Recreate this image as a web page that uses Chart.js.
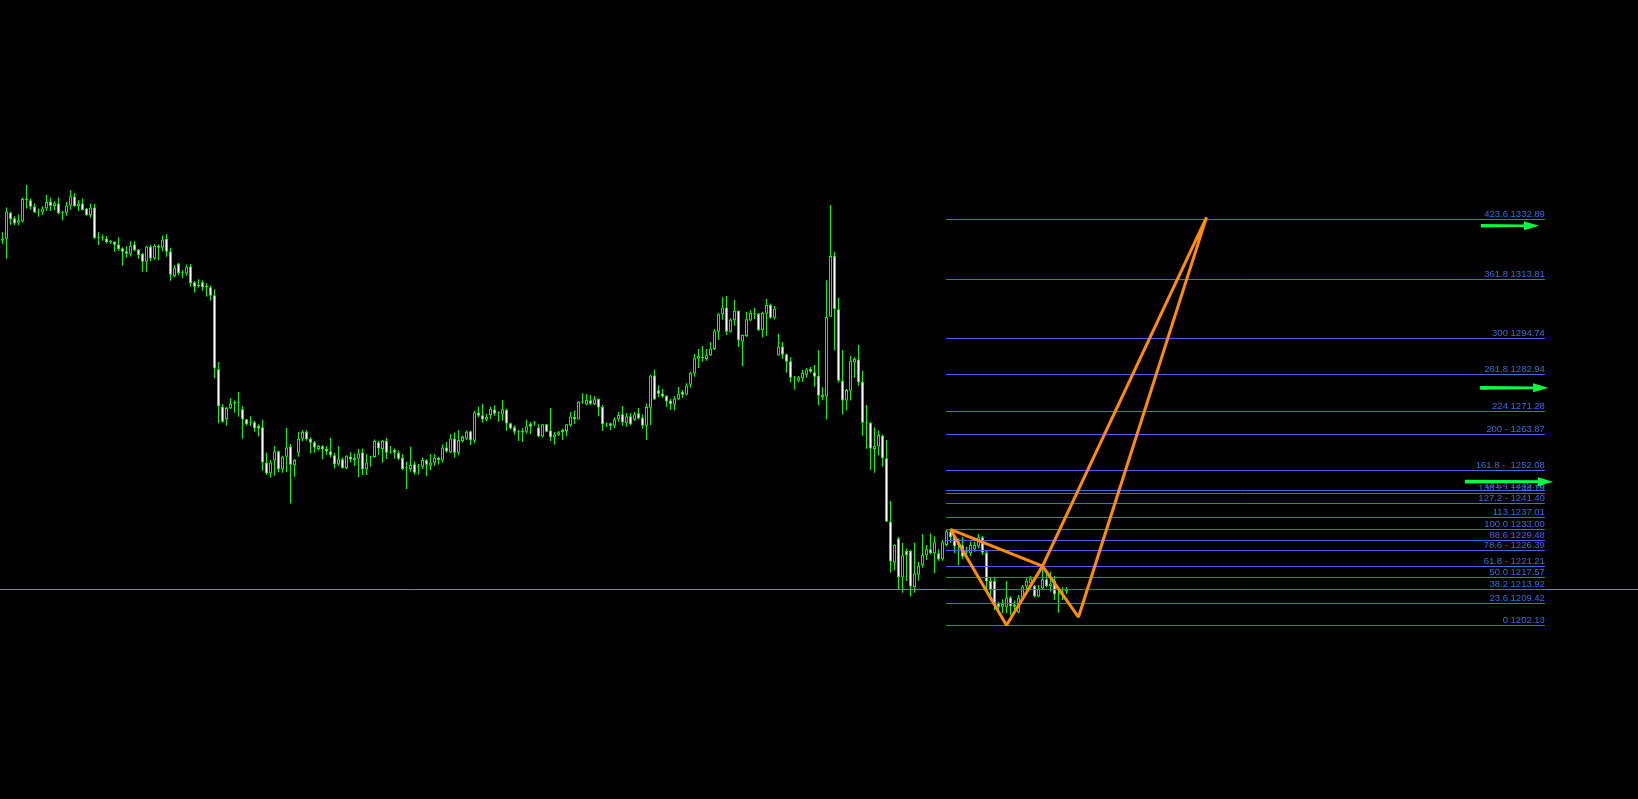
<!DOCTYPE html>
<html>
<head>
<meta charset="utf-8">
<title>XAUUSD H4 - Fibo</title>
<script src="https://cdn.jsdelivr.net/npm/chart.js"></script>
<style>
    html, body { margin: 0; padding: 0; background: #000; overflow: hidden; }
    #wrap { position: relative; width: 1638px; height: 799px; background: #000; }
</style>
</head>
<body>
<div id="wrap"><canvas id="chart"></canvas></div>
<script>
// --- candles (bar index = position in the arrays) ---
const opens = [
    1326.0, 1326.6, 1335.1, 1333.2, 1331.8, 1332.2, 1339.1, 1339.0, 1337.0, 1335.2,
    1335.1, 1336.4, 1338.6, 1337.2, 1338.0, 1335.1, 1335.0, 1337.3, 1340.2, 1337.2,
    1338.0, 1336.4, 1334.3, 1336.7, 1327.0, 1326.9, 1326.7, 1325.7, 1325.7, 1324.8,
    1323.6, 1322.6, 1321.8, 1324.8, 1323.1, 1321.7, 1319.2, 1324.1, 1320.3, 1324.4,
    1323.7, 1326.6, 1322.5, 1314.6, 1318.5,
    1315.7, 1315.4, 1317.7, 1312.6, 1311.4, 1312.6, 1311.2, 1311.0, 1308.4, 1284.6,
    1272.5, 1268.5, 1272.0, 1273.5, 1273.9, 1271.7, 1268.5, 1267.5, 1267.5, 1266.3,
    1265.9, 1254.6, 1251.0, 1255.2, 1258.2, 1252.4, 1256.4, 1259.7, 1253.7, 1257.7,
    1262.2, 1264.4, 1262.2, 1261.1, 1258.9, 1259.8, 1258.9, 1258.2, 1256.9, 1254.0,
    1255.6, 1252.8, 1256.5, 1255.2, 1255.8,
    1257.8, 1252.4, 1256.3, 1256.3, 1261.1, 1258.9, 1261.5, 1257.9, 1258.6, 1257.6,
    1256.0, 1252.8, 1252.5, 1254.0, 1253.3, 1253.2, 1255.3, 1253.5, 1254.5, 1256.1,
    1255.2, 1259.4, 1257.9, 1262.3, 1257.7, 1261.5, 1262.3, 1264.6, 1261.6, 1270.7,
    1269.8, 1268.3, 1269.8, 1271.6, 1270.5, 1270.0, 1271.5, 1267.2, 1265.9, 1264.6,
    1264.4, 1264.5, 1267.0, 1267.2, 1265.8,
    1262.9, 1266.9, 1264.9, 1262.7, 1263.5, 1264.4, 1264.7, 1266.6, 1269.2, 1268.4,
    1273.9, 1273.3, 1274.6, 1273.4, 1275.0, 1272.4, 1266.9, 1267.2, 1266.4, 1268.5,
    1270.1, 1267.4, 1269.5, 1268.3, 1270.4, 1269.0, 1266.4, 1272.2, 1282.6, 1277.8,
    1276.8, 1276.0, 1274.5, 1273.2, 1274.9, 1277.3, 1276.4, 1279.6, 1283.2, 1288.0,
    1288.2, 1287.9, 1289.0, 1291.1, 1296.7,
    1302.3, 1304.5, 1296.7, 1300.4, 1303.4, 1293.5, 1295.3, 1300.3, 1302.3, 1302.5,
    1297.2, 1302.5, 1305.3, 1301.2, 1289.0, 1291.9, 1289.4, 1287.2, 1281.7, 1280.9,
    1281.7, 1282.8, 1284.7, 1283.6, 1282.4, 1275.5, 1275.8, 1301.5, 1321.1, 1303.9,
    1280.8, 1274.5, 1277.7, 1286.8, 1287.7, 1280.5, 1267.5, 1267.3, 1258.9, 1259.7,
    1263.2, 1255.9, 1235.5, 1222.3, 1230.1,
    1217.5, 1226.1, 1226.1, 1214.4, 1218.4, 1221.5, 1224.7, 1226.6, 1225.3, 1225.3,
    1223.4, 1228.0, 1232.2, 1230.7, 1229.1, 1227.9, 1226.4, 1225.3, 1226.6, 1227.5,
    1230.5, 1225.5, 1216.4, 1216.4, 1209.2, 1208.1, 1208.1, 1211.1, 1208.8, 1206.3,
    1211.1, 1214.6, 1215.6, 1214.9, 1211.4, 1214.0, 1217.0, 1214.8, 1216.5, 1212.6,
    1212.9, 1213.0
];
const highs = [
    1328.7, 1336.7, 1335.3, 1333.9, 1334.4, 1339.9, 1343.9, 1339.6, 1338.0, 1336.4,
    1337.1, 1340.7, 1339.9, 1338.7, 1339.9, 1335.6, 1338.5, 1342.3, 1341.4, 1339.1,
    1339.6, 1336.5, 1338.0, 1337.8, 1328.7, 1328.0, 1327.5, 1326.2, 1325.8, 1327.1,
    1323.9, 1324.2, 1325.8, 1325.8, 1323.3, 1322.1, 1324.4, 1324.6, 1324.9, 1324.8,
    1327.7, 1328.1, 1323.7, 1318.1, 1318.8,
    1316.6, 1318.3, 1318.5, 1313.0, 1313.6, 1313.3, 1312.3, 1311.6, 1310.3, 1286.9,
    1273.4, 1272.5, 1275.3, 1274.5, 1277.3, 1272.8, 1268.6, 1269.5, 1267.9, 1266.9,
    1268.3, 1257.7, 1255.4, 1259.9, 1258.4, 1256.7, 1265.7, 1260.5, 1255.6, 1264.4,
    1265.0, 1265.0, 1262.7, 1261.5, 1260.2, 1260.2, 1259.9, 1262.5, 1257.7, 1259.9,
    1256.2, 1256.9, 1257.9, 1257.5, 1258.9,
    1259.1, 1257.3, 1256.7, 1262.0, 1261.5, 1261.8, 1262.5, 1259.9, 1259.1, 1258.4,
    1257.3, 1254.8, 1259.6, 1254.9, 1254.1, 1256.2, 1255.6, 1257.3, 1257.3, 1256.4,
    1260.4, 1261.2, 1263.7, 1264.2, 1265.0, 1263.3, 1264.9, 1264.7, 1271.2, 1272.5,
    1273.5, 1270.3, 1272.5, 1273.0, 1271.0, 1274.7, 1271.9, 1267.4, 1266.5, 1265.0,
    1265.7, 1268.3, 1267.6, 1267.9, 1266.9,
    1267.0, 1267.0, 1272.1, 1264.4, 1264.7, 1265.5, 1267.0, 1270.8, 1271.3, 1274.3,
    1276.9, 1276.6, 1276.2, 1276.0, 1275.2, 1273.1, 1267.4, 1267.4, 1269.1, 1270.8,
    1272.8, 1270.5, 1270.4, 1270.8, 1272.1, 1270.0, 1273.6, 1282.8, 1284.4, 1279.4,
    1278.2, 1276.2, 1275.1, 1276.0, 1278.9, 1277.9, 1280.1, 1283.7, 1289.5, 1291.1,
    1292.1, 1291.1, 1293.4, 1297.6, 1302.6,
    1307.8, 1308.2, 1301.0, 1306.9, 1303.5, 1295.8, 1303.1, 1303.6, 1304.3, 1302.7,
    1303.1, 1307.2, 1305.8, 1305.0, 1296.0, 1293.4, 1289.6, 1288.5, 1282.4, 1282.4,
    1284.4, 1284.9, 1285.3, 1286.0, 1290.8, 1278.8, 1313.3, 1337.5, 1322.4, 1307.6,
    1290.8, 1278.2, 1288.9, 1288.5, 1292.4, 1284.0, 1273.1, 1267.7, 1265.8, 1264.9,
    1263.6, 1261.8, 1242.2, 1228.2, 1230.6,
    1228.7, 1226.9, 1226.4, 1228.7, 1222.6, 1231.5, 1228.0, 1231.7, 1230.7, 1226.6,
    1229.6, 1232.8, 1232.8, 1230.9, 1230.1, 1230.5, 1227.5, 1229.1, 1229.1, 1231.5,
    1230.9, 1226.4, 1217.8, 1217.8, 1209.7, 1210.5, 1216.4, 1211.6, 1210.1, 1211.9,
    1215.1, 1217.3, 1218.0, 1215.1, 1215.1, 1220.2, 1218.9, 1219.4, 1218.0, 1213.5,
    1214.4, 1214.4
];
const lows = [
    1324.9, 1320.2, 1331.1, 1331.0, 1331.0, 1331.9, 1336.4, 1336.0, 1334.9, 1333.7,
    1334.3, 1335.6, 1335.6, 1335.8, 1334.5, 1332.6, 1334.0, 1336.0, 1336.9, 1335.6,
    1335.7, 1334.0, 1333.4, 1326.6, 1324.6, 1326.0, 1325.1, 1324.9, 1322.4, 1322.7,
    1317.9, 1320.5, 1320.9, 1322.5, 1320.2, 1316.0, 1316.0, 1319.4, 1319.9, 1319.7,
    1322.6, 1320.8, 1313.1, 1314.2, 1314.9,
    1314.0, 1314.7, 1311.2, 1309.3, 1310.9, 1309.9, 1308.0, 1306.7, 1281.6, 1267.2,
    1267.4, 1266.4, 1271.8, 1270.6, 1269.3, 1262.2, 1266.5, 1266.3, 1264.5, 1262.9,
    1251.9, 1250.5, 1249.7, 1250.3, 1251.4, 1251.3, 1251.4, 1241.4, 1250.0, 1256.4,
    1261.4, 1261.6, 1257.5, 1257.7, 1258.4, 1255.6, 1257.1, 1256.2, 1252.6, 1253.4,
    1252.6, 1252.4, 1254.6, 1253.4, 1249.8,
    1250.5, 1250.5, 1253.2, 1256.1, 1257.0, 1254.5, 1255.7, 1257.4, 1255.8, 1255.4,
    1252.1, 1246.0, 1251.6, 1250.6, 1250.6, 1252.5, 1250.2, 1252.1, 1253.5, 1253.9,
    1254.5, 1257.7, 1257.6, 1256.1, 1256.9, 1261.0, 1261.8, 1260.2, 1260.8, 1269.1,
    1267.4, 1267.8, 1268.6, 1269.6, 1267.7, 1268.1, 1264.8, 1265.2, 1263.6, 1261.5,
    1261.2, 1263.9, 1263.7, 1266.4, 1262.7,
    1262.6, 1264.3, 1261.5, 1260.3, 1263.1, 1261.8, 1263.1, 1266.1, 1267.0, 1268.4,
    1273.5, 1273.0, 1273.1, 1273.1, 1269.5, 1264.8, 1266.0, 1265.0, 1265.7, 1267.7,
    1266.4, 1266.1, 1266.6, 1268.0, 1268.4, 1265.4, 1261.8, 1266.6, 1274.7, 1275.6,
    1275.4, 1272.5, 1271.5, 1271.3, 1274.6, 1275.3, 1276.2, 1278.6, 1282.2, 1285.0,
    1287.0, 1287.3, 1288.9, 1290.8, 1294.0,
    1300.5, 1295.6, 1296.4, 1298.6, 1291.8, 1285.6, 1295.0, 1300.1, 1300.8, 1296.9,
    1294.8, 1295.4, 1300.9, 1300.6, 1289.0, 1288.0, 1283.5, 1280.3, 1278.0, 1280.3,
    1280.5, 1281.9, 1283.5, 1279.0, 1272.9, 1274.6, 1268.4, 1301.5, 1290.6, 1280.3,
    1270.0, 1271.3, 1274.5, 1281.9, 1279.3, 1263.2, 1259.0, 1252.2, 1251.3, 1256.8,
    1253.2, 1235.5, 1219.1, 1219.9, 1213.7,
    1212.6, 1216.4, 1211.4, 1212.6, 1216.5, 1220.7, 1223.2, 1224.9, 1218.9, 1222.9,
    1222.9, 1227.5, 1228.7, 1225.3, 1221.5, 1223.4, 1223.7, 1224.4, 1225.8, 1226.9,
    1224.8, 1213.5, 1211.4, 1207.1, 1206.5, 1206.0, 1206.0, 1205.4, 1207.1, 1206.0,
    1210.3, 1213.0, 1214.4, 1211.1, 1211.1, 1213.7, 1214.4, 1213.0, 1210.3, 1206.2,
    1210.3, 1212.2
];
const closes = [
    1326.7, 1335.4, 1333.0, 1331.5, 1332.6, 1339.4, 1339.3, 1336.9, 1335.1, 1335.1,
    1336.4, 1338.5, 1337.2, 1338.1, 1334.8, 1335.0, 1337.3, 1340.3, 1337.2, 1338.1,
    1335.9, 1334.3, 1336.7, 1326.9, 1326.8, 1326.8, 1325.5, 1325.6, 1324.7, 1323.3,
    1322.4, 1321.8, 1324.4, 1323.0, 1321.4, 1319.2, 1324.1, 1320.3, 1324.4, 1323.7,
    1326.4, 1322.4, 1315.0, 1317.3, 1315.6,
    1315.9, 1317.7, 1312.3, 1311.2, 1311.6, 1311.0, 1311.1, 1308.3, 1284.9, 1272.7,
    1267.7, 1272.1, 1273.4, 1274.0, 1273.8, 1268.5, 1266.9, 1267.4, 1265.6, 1265.5,
    1254.6, 1251.0, 1254.6, 1258.2, 1252.4, 1256.4, 1259.4, 1253.8, 1255.4, 1262.2,
    1264.4, 1262.1, 1260.9, 1259.4, 1259.9, 1258.8, 1258.1, 1256.9, 1254.0, 1255.6,
    1252.8, 1256.7, 1255.5, 1256.0, 1257.5,
    1252.4, 1254.6, 1256.2, 1261.5, 1259.1, 1261.5, 1257.7, 1257.8, 1257.7, 1255.8,
    1252.5, 1252.7, 1253.8, 1251.3, 1253.2, 1255.4, 1253.8, 1254.6, 1256.2, 1255.4,
    1259.4, 1258.1, 1262.3, 1257.7, 1261.8, 1262.8, 1264.5, 1261.7, 1270.7, 1269.6,
    1268.4, 1269.2, 1271.9, 1270.3, 1270.4, 1271.7, 1267.1, 1265.5, 1264.5, 1264.5,
    1264.5, 1266.2, 1266.1, 1267.1, 1262.9,
    1266.9, 1264.5, 1262.7, 1263.7, 1264.3, 1265.0, 1266.9, 1269.4, 1268.4, 1274.1,
    1274.1, 1274.7, 1273.5, 1274.9, 1272.3, 1266.9, 1266.8, 1266.4, 1268.5, 1269.9,
    1267.5, 1269.5, 1267.0, 1270.1, 1268.8, 1266.4, 1272.4, 1282.6, 1274.9, 1276.7,
    1275.8, 1274.2, 1273.3, 1275.2, 1276.8, 1276.4, 1279.4, 1283.3, 1288.1, 1288.9,
    1288.3, 1289.1, 1291.3, 1296.8, 1302.3,
    1304.5, 1296.7, 1300.5, 1303.4, 1293.9, 1295.6, 1300.7, 1302.7, 1302.4, 1297.2,
    1302.7, 1305.3, 1301.2, 1304.2, 1291.9, 1289.3, 1287.0, 1281.9, 1281.6, 1282.0,
    1283.4, 1284.5, 1283.8, 1282.2, 1276.1, 1276.3, 1301.4, 1321.1, 1303.9, 1280.9,
    1274.5, 1277.9, 1287.3, 1288.0, 1280.4, 1267.4, 1267.4, 1259.1, 1259.9, 1263.4,
    1255.9, 1235.5, 1222.7, 1228.0, 1217.6,
    1224.7, 1224.8, 1214.6, 1218.9, 1221.2, 1224.8, 1226.6, 1225.3, 1228.9, 1223.4,
    1228.9, 1232.4, 1230.5, 1227.5, 1228.0, 1224.2, 1225.8, 1228.0, 1228.0, 1230.5,
    1225.5, 1216.2, 1213.5, 1209.2, 1208.1, 1209.0, 1211.1, 1208.3, 1208.1, 1211.1,
    1214.6, 1216.5, 1217.3, 1211.6, 1214.0, 1217.0, 1214.8, 1215.6, 1212.1, 1212.3,
    1212.6, 1213.7
];

// --- fibo levels (bar 236 .. 385.6) ---
const fibRatios = ['423.6', '361.8', '300', '261.8', '224', '200 -', '161.8 - ', '141.4', '138.2 -', '127.2 -', '113', '100.0', '88.6', '78.6 -', '61.8 -', '50.0', '38.2', '23.6', '0'];
const fibPrices = [1332.89, 1313.81, 1294.74, 1282.94, 1271.28, 1263.87, 1252.08, 1245.78, 1244.79, 1241.40, 1237.01, 1233.00, 1229.48, 1226.39, 1221.21, 1217.57, 1213.92, 1209.42, 1202.13];
const fibStart = 235.9;
const fibEnd = 385.6;

// --- harmonic pattern X A B C D ---
const patternBars = [237, 251, 260, 269, 301];
const patternPrices = [1233.0, 1202.13, 1221.2, 1204.8, 1333.5];

// --- arrows on the right + bid line ---
const arrowFrom = [369.6, 369.4, 365.6];
const arrowTo = [384.1, 386.4, 387.6];
const arrowPrices = [1330.8, 1278.6, 1248.4];
const bidPrice = 1213.7;

const candleGreen = '#00ff00';
const fibBlue = '#4169e1';

const bodies = opens.map((o, i) => ({ x: i, y: [o, closes[i]] }));
const wicks = lows.map((l, i) => ({ x: i, y: [l, highs[i]] }));
const bodyFill = opens.map((o, i) => closes[i] > o ? '#000000' : '#ffffff');

const pt = k => ({ x: patternBars[k], y: patternPrices[k] });
const patternData = [pt(0), pt(1), pt(2), pt(0), { x: 262, y: null }, pt(2), pt(3), pt(4), pt(2)];

const overlayPlugin = {
    id: 'overlay',
    beforeDatasetDraw(chart, args) {
        if (args.index !== 2) return;
        const ctx = chart.ctx;
        const xs = chart.scales.x, ys = chart.scales.y;
        ctx.save();

        // bid line
        const by = Math.round(ys.getPixelForValue(bidPrice)) + 0.5;
        ctx.strokeStyle = '#778899';
        ctx.lineWidth = 1;
        ctx.beginPath();
        ctx.moveTo(0, by);
        ctx.lineTo(chart.width, by);
        ctx.stroke();

        // fibo lines + labels
        const x1 = xs.getPixelForValue(fibStart), x2 = xs.getPixelForValue(fibEnd);
        ctx.strokeStyle = fibBlue;
        ctx.fillStyle = fibBlue;
        ctx.font = "9.5px 'Liberation Sans', Arial, sans-serif";
        ctx.textAlign = 'right';
        ctx.textBaseline = 'alphabetic';
        fibPrices.forEach((p, i) => {
            const py = Math.round(ys.getPixelForValue(p)) + 0.5;
            ctx.beginPath();
            ctx.moveTo(x1, py);
            ctx.lineTo(x2, py);
            ctx.stroke();
            ctx.fillText(fibRatios[i] + ' ' + p.toFixed(2), x2, py - 3);
        });

        // arrows
        ctx.fillStyle = '#00ff40';
        arrowPrices.forEach((p, i) => {
            const ax = xs.getPixelForValue(arrowFrom[i]);
            const bx = xs.getPixelForValue(arrowTo[i]);
            const ay = ys.getPixelForValue(p);
            const head = 15;
            ctx.beginPath();
            ctx.moveTo(ax, ay - 1.8);
            ctx.lineTo(bx - head, ay - 1.3);
            ctx.lineTo(bx - head, ay - 4.5);
            ctx.lineTo(bx, ay);
            ctx.lineTo(bx - head, ay + 4.5);
            ctx.lineTo(bx - head, ay + 1.3);
            ctx.lineTo(ax, ay + 1.8);
            ctx.closePath();
            ctx.fill();
        });
        ctx.restore();
    }
};

new Chart(document.getElementById('chart'), {
    type: 'bar',
    data: {
        datasets: [
            {
                label: 'body',
                data: bodies,
                order: 1,
                grouped: false,
                barThickness: 3,
                minBarLength: 1,
                inflateAmount: 0,
                borderWidth: 1,
                borderSkipped: false,
                borderColor: candleGreen,
                backgroundColor: bodyFill
            },
            {
                label: 'wick',
                data: wicks,
                order: 2,
                grouped: false,
                barThickness: 1,
                inflateAmount: 0,
                borderWidth: 0,
                backgroundColor: candleGreen
            },
            {
                type: 'line',
                label: 'pattern',
                data: patternData,
                order: 0,
                borderColor: 'rgb(255,140,10)',
                borderWidth: 3,
                borderJoinStyle: 'bevel',
                pointRadius: 0,
                tension: 0,
                fill: false,
                spanGaps: false
            }
        ]
    },
    options: {
        responsive: true,
        maintainAspectRatio: false,
        animation: false,
        events: [],
        layout: { padding: 0 },
        scales: {
            x: { type: 'linear', display: false, offset: false, min: -0.625, max: 408.875, grid: { display: false } },
            y: { type: 'linear', display: false, beginAtZero: false, min: 1146.19, max: 1403.52, grid: { display: false } }
        },
        plugins: {
            legend: { display: false },
            tooltip: { enabled: false }
        }
    },
    plugins: [overlayPlugin]
});
</script>
</body>
</html>
